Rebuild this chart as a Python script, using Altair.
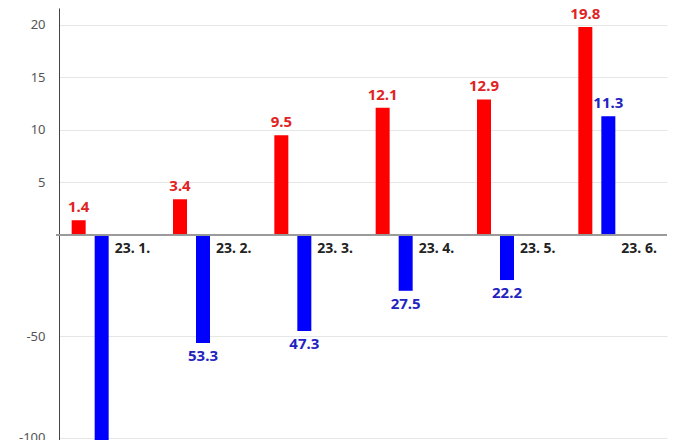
import altair as alt
import pandas as pd

months = ["23. 1.", "23. 2.", "23. 3.", "23. 4.", "23. 5.", "23. 6."]
red_vals = [1.4, 3.4, 9.5, 12.1, 12.9, 19.8]
blue_vals = [-120.0, -53.3, -47.3, -27.5, -22.2, 11.3]
tick_vals = [20, 15, 10, 5, -50, -100]

red_df = pd.DataFrame({"month": months, "value": red_vals})
blue_df = pd.DataFrame({"month": months, "value": blue_vals})
lab_df = pd.DataFrame({"month": months})

W, H = 608, 511
ZERO = 227
FONT = "Noto Sans"

xs = alt.Scale(domain=months, paddingInner=0, paddingOuter=0)
ys = alt.Scale(domain=[-140, 0, 21.6], range=[H, ZERO, 0], nice=False, zero=False)

x_enc = alt.X("month:N", scale=xs, axis=None, sort=months)

yaxis = alt.Axis(values=tick_vals, grid=True, gridColor="#e6e6e6", ticks=False,
                 domainColor="#444", labelPadding=14, labelColor="#555",
                 labelFontSize=13, labelFont=FONT, title=None,
                 labelExpr="datum.value < 0 ? '-' + abs(datum.value) : '' + datum.value")

def y_enc():
    return alt.Y("value:Q", scale=ys, axis=yaxis, title=None)

red_bar = alt.Chart(red_df).mark_bar(width=14, color="#ff0000", xOffset=-31).encode(
    x=x_enc, y=y_enc(), y2=alt.datum(0))
blue_bar = alt.Chart(blue_df).mark_bar(width=14, color="#0000ff", xOffset=-8).encode(
    x=x_enc, y=y_enc(), y2=alt.datum(0))

zero = alt.Chart(lab_df).mark_rule(color="#999", strokeWidth=1).encode(
    y=alt.datum(0, scale=ys, axis=yaxis), x=alt.value(-3), x2=alt.value(W))

red_txt = alt.Chart(red_df).transform_calculate(lab="format(abs(datum.value), '.1f')").mark_text(
    xOffset=-31, dy=-5, baseline="bottom", fontWeight="bold", fontSize=15, font=FONT,
    color="#e02424").encode(x=x_enc, y=y_enc(), text="lab:N")

blue_pos = alt.Chart(blue_df).transform_filter("datum.value >= 0").transform_calculate(
    lab="format(abs(datum.value), '.1f')").mark_text(
    xOffset=-8, dy=-5, baseline="bottom", fontWeight="bold", fontSize=15, font=FONT,
    color="#2323c0").encode(x=x_enc, y=y_enc(), text="lab:N")
blue_neg = alt.Chart(blue_df).transform_filter("datum.value < 0").transform_calculate(
    lab="format(abs(datum.value), '.1f')").mark_text(
    xOffset=-8, dy=6, baseline="top", fontWeight="bold", fontSize=15, font=FONT,
    color="#2323c0").encode(x=x_enc, y=y_enc(), text="lab:N")

mlab = alt.Chart(lab_df).mark_text(
    align="left", baseline="top", dx=5, dy=7, fontSize=14, fontWeight="bold", font=FONT,
    color="#222").encode(x=x_enc, y=alt.datum(0, scale=ys, axis=yaxis), text="month:N")

chart = alt.layer(red_bar, blue_bar, zero, red_txt, blue_pos, blue_neg, mlab).properties(
    width=W, height=H,
    autosize=alt.AutoSizeParams(type="none"),
    padding={"left": 51, "top": 0, "right": 5, "bottom": 0},
).configure_view(stroke=None)

chart.save("out.html", embed_options={"renderer": "svg", "actions": False})
